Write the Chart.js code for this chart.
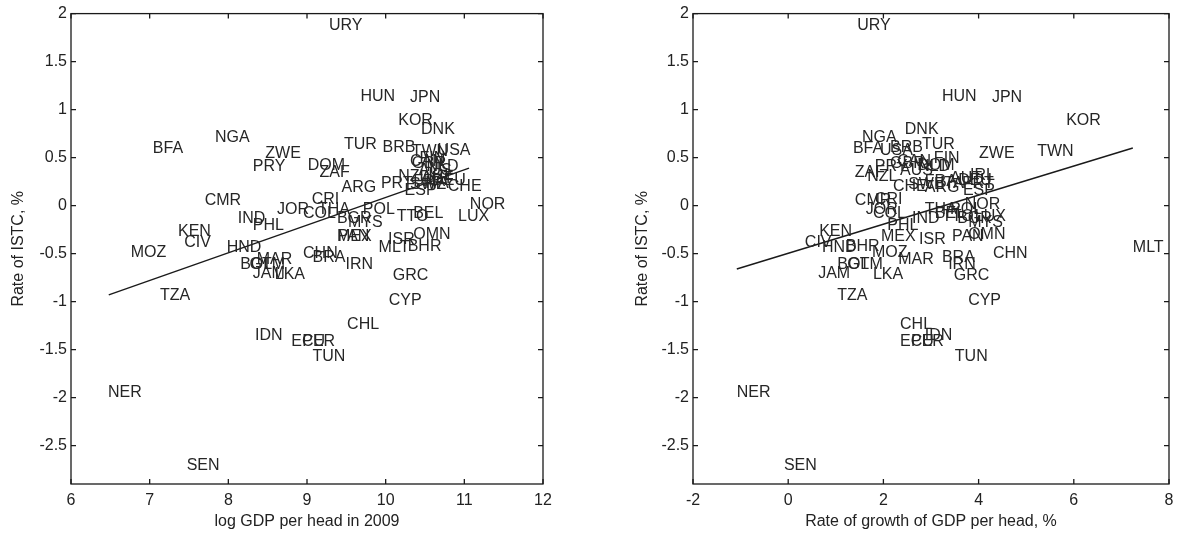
<!DOCTYPE html>
<html>
<head>
<meta charset="utf-8">
<script src="https://cdn.jsdelivr.net/npm/chart.js@4.4.1/dist/chart.umd.min.js"></script>
<style>
  html, body { margin: 0; padding: 0; background: #fff; }
  body { width: 1187px; height: 536px; position: relative; overflow: hidden; }
  canvas { position: absolute; top: 0; }
  #left { left: 0; }
  #right { left: 624px; }
</style>
</head>
<body>
<canvas id="left" width="560" height="536"></canvas>
<canvas id="right" width="563" height="536"></canvas>
<script>
// country codes (same ISTC value in each)
const countries = ['URY','HUN','JPN','KOR','DNK','NGA','BFA','ZWE','TWN','TUR','BRB','USA','PRY','DOM','ZAF',
  'CAN','GBR','FIN','NLD','AUS','IRL','NZL','SWE','AUT','FRA','ITA','DEU','CHE','PRT','ARG','ESP','NOR','LUX',
  'CMR','CRI','JOR','COL','THA','POL','BEL','TTO','BGR','MYS','IND','PHL','KEN','CIV','MOZ','HND','MEX','PAN',
  'OMN','ISR','MLT','BHR','CHN','BRA','IRN','BOL','GTM','MAR','JAM','LKA','GRC','TZA','CYP','CHL','IDN','ECU',
  'PER','TUN','NER','SEN'];

const logGdp = [9.28,9.68,10.31,10.16,10.45,7.83,7.04,8.47,10.33,9.47,9.96,10.66,8.31,9.01,9.16,
  10.31,10.33,10.43,10.52,10.42,10.54,10.16,10.31,10.45,10.35,10.50,10.59,10.79,9.94,9.44,10.24,11.07,10.92,
  7.70,9.06,8.62,8.95,9.14,9.71,10.35,10.14,9.38,9.52,8.12,8.31,7.36,7.44,6.76,7.98,9.38,9.39,
  10.35,10.03,9.91,10.28,8.95,9.07,9.49,8.15,8.27,8.36,8.31,8.59,10.09,7.13,10.04,9.51,8.34,8.80,
  8.94,9.07,6.47,7.47];

const growth = [1.45,3.23,4.28,5.84,2.45,1.55,1.36,4.01,5.23,2.81,2.14,1.93,1.82,2.71,1.40,
  2.29,2.14,3.06,2.73,2.35,3.82,1.66,2.52,3.40,2.87,3.19,3.57,2.20,3.65,2.87,3.67,3.71,3.92,
  1.40,1.82,1.63,1.78,2.87,3.40,3.08,3.23,3.55,3.78,2.60,2.08,0.65,0.35,1.76,0.71,1.95,3.44,
  3.78,2.75,7.24,1.21,4.30,3.23,3.36,1.03,1.24,2.31,0.63,1.78,3.48,1.03,3.78,2.35,2.87,2.35,
  2.58,3.50,-1.08,-0.09];

const istc = [1.87,1.14,1.12,0.89,0.79,0.71,0.59,0.54,0.56,0.64,0.60,0.57,0.41,0.42,0.34,
  0.46,0.44,0.49,0.41,0.36,0.31,0.30,0.22,0.28,0.25,0.23,0.26,0.20,0.23,0.19,0.16,0.01,-0.11,
  0.05,0.06,-0.04,-0.08,-0.04,-0.04,-0.08,-0.11,-0.14,-0.18,-0.14,-0.21,-0.27,-0.39,-0.49,-0.44,-0.32,-0.32,
  -0.30,-0.35,-0.44,-0.43,-0.50,-0.54,-0.61,-0.61,-0.61,-0.56,-0.71,-0.72,-0.73,-0.94,-0.99,-1.24,-1.35,-1.42,
  -1.42,-1.57,-1.95,-2.71];

// fitted lines, end points
const fitLeftX = [6.48, 11.06];
const fitLeftY = [-0.93, 0.39];
const fitRightX = [-1.08, 7.24];
const fitRightY = [-0.66, 0.60];

const xTicksLeft = [6, 7, 8, 9, 10, 11, 12];
const xTicksRight = [-2, 0, 2, 4, 6, 8];
const yTicks = [2, 1.5, 1, 0.5, 0, -0.5, -1, -1.5, -2, -2.5];

Chart.defaults.font.family = '"Liberation Sans", Arial, sans-serif';
Chart.defaults.font.size = 16;
Chart.defaults.color = '#222';

const codeLabels = {
  id: 'codeLabels',
  afterDatasetsDraw(chart) {
    const ctx = chart.ctx;
    const meta = chart.getDatasetMeta(0);
    ctx.save();
    ctx.font = '16px "Liberation Sans", Arial, sans-serif';
    ctx.fillStyle = '#262626';
    ctx.textAlign = 'left';
    ctx.textBaseline = 'middle';
    meta.data.forEach((pt, i) => ctx.fillText(countries[i], pt.x, pt.y));
    ctx.restore();
  }
};

// matlab style box with inward ticks on all sides
const boxFrame = {
  id: 'boxFrame',
  afterDraw(chart) {
    const { ctx, chartArea: a, scales: { x, y } } = chart;
    ctx.save();
    ctx.strokeStyle = '#1a1a1a';
    ctx.lineWidth = 1.3;
    ctx.strokeRect(a.left, a.top, a.right - a.left, a.bottom - a.top);
    ctx.beginPath();
    x.ticks.forEach(t => {
      const px = x.getPixelForValue(t.value);
      ctx.moveTo(px, a.bottom); ctx.lineTo(px, a.bottom - 5);
      ctx.moveTo(px, a.top); ctx.lineTo(px, a.top + 5);
    });
    y.ticks.forEach(t => {
      const py = y.getPixelForValue(t.value);
      ctx.moveTo(a.left, py); ctx.lineTo(a.left + 5, py);
      ctx.moveTo(a.right, py); ctx.lineTo(a.right - 5, py);
    });
    ctx.stroke();
    ctx.restore();
  }
};

function makeChart(id, xs, xTicks, xTitle, fitX, fitY, yWidth, padRight) {
  const points = xs.map((v, i) => ({ x: v, y: istc[i] }));
  const fit = fitX.map((v, i) => ({ x: v, y: fitY[i] }));
  return new Chart(document.getElementById(id), {
    type: 'scatter',
    data: {
      datasets: [
        { data: points, pointRadius: 0, pointHoverRadius: 0 },
        { data: fit, showLine: true, pointRadius: 0, borderColor: '#1a1a1a', borderWidth: 1.4 }
      ]
    },
    options: {
      responsive: false,
      animation: false,
      devicePixelRatio: 1,
      layout: { padding: { top: 12, right: padRight, bottom: 0, left: 0 } },
      plugins: { legend: { display: false }, tooltip: { enabled: false } },
      scales: {
        x: {
          min: xTicks[0],
          max: xTicks[xTicks.length - 1],
          afterBuildTicks: s => { s.ticks = xTicks.map(v => ({ value: v })); },
          afterFit: s => { s.height = 52; },
          grid: { display: false, drawTicks: false },
          border: { display: false },
          ticks: { padding: 7, callback: v => String(v) },
          title: { display: true, text: xTitle, padding: { top: 0, bottom: 5 } }
        },
        y: {
          min: -2.9,
          max: 2,
          afterBuildTicks: s => { s.ticks = yTicks.map(v => ({ value: v })); },
          afterFit: s => { s.width = yWidth; },
          grid: { display: false, drawTicks: false },
          border: { display: false },
          ticks: { padding: 4, callback: v => String(v) },
          title: { display: true, text: 'Rate of ISTC, %', padding: { top: 9, bottom: 0 } }
        }
      }
    },
    plugins: [codeLabels, boxFrame]
  });
}

makeChart('left', logGdp, xTicksLeft, 'log GDP per head in 2009', fitLeftX, fitLeftY, 71, 17);
makeChart('right', growth, xTicksRight, 'Rate of growth of GDP per head, %', fitRightX, fitRightY, 69, 18);
</script>
</body>
</html>
